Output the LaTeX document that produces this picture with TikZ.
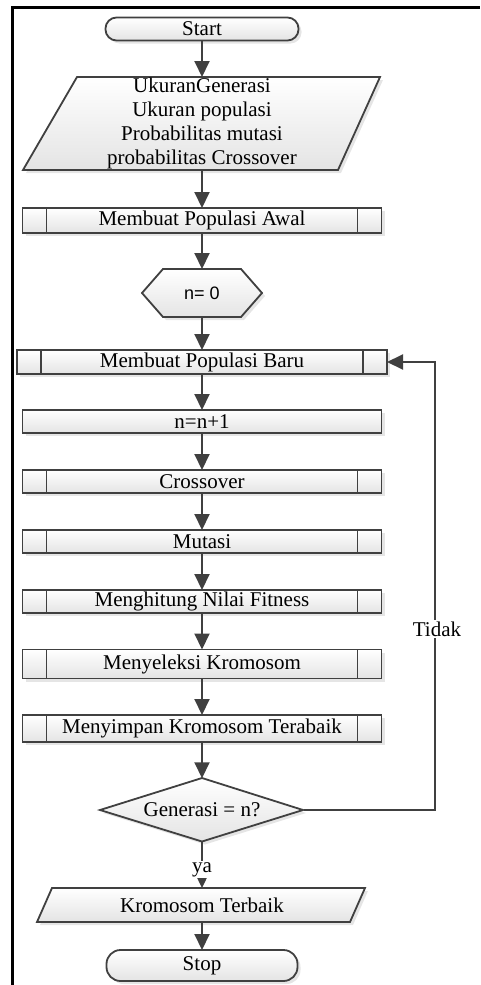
\documentclass[tikz,border=0pt]{standalone}
\usepackage{fontspec}
\setmainfont{Liberation Serif}
\newfontfamily\sansf{Liberation Sans}
\usetikzlibrary{arrows.meta,shadows,calc}
\definecolor{ln}{HTML}{404040}
\definecolor{shadeb}{HTML}{E4E4E4}
\begin{document}
\begin{tikzpicture}[x=1pt,y=-1pt,
  txt/.style={font=\fontsize{21}{24}\selectfont, text=black, align=center, inner sep=0pt, outer sep=0pt},
  shp/.style={draw=ln, line width=1.8pt, top color=white, bottom color=shadeb,
    drop shadow={shadow xshift=3pt, shadow yshift=-3pt, fill=black!20, opacity=0.5}},
  proc/.style={txt, shp, rectangle, minimum width=359pt},
  term/.style={txt, shp, rectangle},
  holder/.style={txt, rectangle, draw=none},
  subln/.style={line width=1.8pt, draw=ln},
  arr/.style={draw=ln, line width=2pt, -{Triangle[length=16pt,width=15pt]}},
  lbl/.style={font=\fontsize{21}{24}\selectfont, fill=white, inner sep=1.5pt, text=black},
]
\useasboundingbox (0,0) rectangle (480,985);
% frame
\draw[line width=3pt, black] (12.5,985) -- (12.5,7.5) -- (480,7.5);

% shapes drawn as paths
\path[shp] (77,77) -- (380,77) -- (338,170) -- (23,170) -- cycle;
\path[shp] (142,293) -- (163,269) -- (241,269) -- (262,293) -- (241,317) -- (163,317) -- cycle;
\path[shp] (100,810) -- (202,778) -- (303,810) -- (202,841.5) -- cycle;
\path[shp] (52,888) -- (365,888) -- (350,922) -- (37,922) -- cycle;

% nodes
\node[term, minimum width=193pt, minimum height=23pt, rounded corners=11pt] (start) at (202,29) {Start};
\node[holder, minimum width=357pt, minimum height=93pt] (inp) at (202,123.5)
  {UkuranGenerasi\\Ukuran populasi\\Probabilitas mutasi\\probabilitas Crossover};
\node[proc, minimum height=25pt] (awal) at (202,220.5) {Membuat Populasi Awal};
\node[holder, minimum width=120pt, minimum height=48pt, font=\sansf\fontsize{18}{20}\selectfont] (n0) at (202,293) {n= 0};
\node[proc, minimum width=370pt, minimum height=24pt] (baru) at (202,362) {Membuat Populasi Baru};
\node[proc, minimum height=23pt] (inc) at (202,421.5) {n=n+1};
\node[proc, minimum height=23pt] (cross) at (202,481.5) {Crossover};
\node[proc, minimum height=23pt] (mut) at (202,541.5) {Mutasi};
\node[proc, minimum height=23pt] (hit) at (202,601.5) {Menghitung Nilai Fitness};
\node[proc, minimum height=29pt] (sel) at (202,664) {Menyeleksi Kromosom};
\node[proc, minimum height=27pt] (simp) at (202,728.5) {Menyimpan Kromosom Terabaik};
\node[holder, minimum width=203pt, minimum height=63.5pt] (dec) at (202,810) {Generasi = n?};
\node[holder, minimum width=328pt, minimum height=34pt] (krom) at (202,905) {Kromosom Terbaik};
\node[term, minimum width=191pt, minimum height=31pt, rounded corners=14pt] (stop) at (202,965.5) {Stop};

% inner lines of subprocess boxes
\foreach \n in {awal,baru,cross,mut,hit,sel,simp}{
  \draw[subln] ([xshift=24pt]\n.north west) -- ([xshift=24pt]\n.south west);
  \draw[subln] ([xshift=-24pt]\n.north east) -- ([xshift=-24pt]\n.south east);
}

% connectors
\draw[arr] (start.south) -- (inp.north);
\draw[arr] (inp.south) -- (awal.north);
\draw[arr] (awal.south) -- (n0.north);
\draw[arr] (n0.south) -- (baru.north);
\draw[arr] (baru.south) -- (inc.north);
\draw[arr] (inc.south) -- (cross.north);
\draw[arr] (cross.south) -- (mut.north);
\draw[arr] (mut.south) -- (hit.north);
\draw[arr] (hit.south) -- (sel.north);
\draw[arr] (sel.south) -- (simp.north);
\draw[arr] (simp.south) -- (dec.north);
\draw[arr] (dec.south) -- node[lbl, pos=0.6] (ya) {ya} (krom.north);
\draw[arr] (krom.south) -- (stop.north);
\coordinate (lx) at (435,0);
\draw[arr] (dec.east) -- (dec.east -| lx) |- (baru.east);
\node[lbl] (tidak) at (437,629) {Tidak};
\end{tikzpicture}
\end{document}
